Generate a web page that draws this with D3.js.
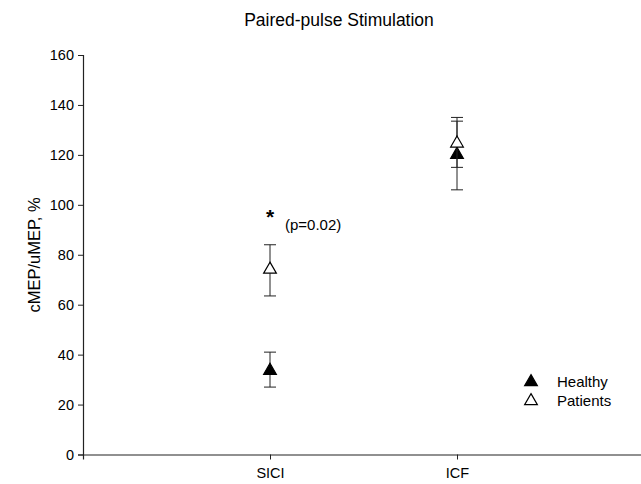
<!DOCTYPE html>
<html>
<head>
<meta charset="utf-8">
<script src="https://cdn.jsdelivr.net/npm/d3@7"></script>
<style>
  body { margin: 0; background: #fff; }
  text { font-family: "Liberation Sans", Arial, sans-serif; fill: #000; }
</style>
</head>
<body>
<svg id="chart" width="641" height="484"></svg>
<script>
// categories on the x axis
var categories = ['SICI', 'ICF']
var catPos = [1, 2]

// group means and error bar ends
var healthyMean = [34, 120.5]
var healthyLo = [27, 106]
var healthyHi = [41, 133.5]

var patientsMean = [74.5, 125]
var patientsLo = [63.5, 115]
var patientsHi = [84, 135]

var yTicks = [0, 20, 40, 60, 80, 100, 120, 140, 160]

var svg = d3.select('#chart')

var xScale = d3.scaleLinear().domain([0, 3]).range([83, 644])
var yScale = d3.scaleLinear().domain([0, 160]).range([454.5, 55])

// title
svg.append('text')
    .attr('x', 339)
    .attr('y', 26)
    .attr('text-anchor', 'middle')
    .style('font-size', '17.5px')
    .text('Paired-pulse Stimulation')

// y axis
var yAxis = d3.axisLeft(yScale).tickValues(yTicks).tickSize(5).tickPadding(4)
var yG = svg.append('g')
    .attr('transform', 'translate(' + xScale(0) + ',0)')
    .call(yAxis)
yG.select('.domain').attr('stroke', '#222').attr('stroke-width', 1.2)
yG.selectAll('line').attr('stroke', '#222')
yG.selectAll('text')
    .style('font-size', '14.5px')
    .style('font-family', '"Liberation Sans", Arial, sans-serif')

// x axis
var xAxis = d3.axisBottom(xScale).tickValues(catPos).tickSize(5).tickPadding(8)
    .tickFormat(function (d, i) { return categories[i] })
var xG = svg.append('g')
    .attr('transform', 'translate(0,' + yScale(0) + ')')
    .call(xAxis)
xG.select('.domain').attr('stroke', '#222').attr('stroke-width', 1.2)
xG.selectAll('line').attr('stroke', '#222')
xG.selectAll('text')
    .style('font-size', '14.5px')
    .style('font-family', '"Liberation Sans", Arial, sans-serif')

// y axis label
svg.append('text')
    .attr('transform', 'translate(40,255) rotate(-90)')
    .attr('text-anchor', 'middle')
    .style('font-size', '16.5px')
    .text('cMEP/uMEP, %')

var tri = d3.symbol().type(d3.symbolTriangle).size(70)
var capW = 6

function drawSeries(means, lo, hi, fill) {
    var g = svg.append('g')
    var rows = means.map(function (m, i) {
        return { x: catPos[i], m: m, lo: lo[i], hi: hi[i] }
    })
    var bars = g.selectAll('g.bar').data(rows).enter().append('g')
    bars.append('line')
        .attr('x1', function (d) { return xScale(d.x) })
        .attr('x2', function (d) { return xScale(d.x) })
        .attr('y1', function (d) { return yScale(d.lo) })
        .attr('y2', function (d) { return yScale(d.hi) })
        .attr('stroke', '#222')
    bars.selectAll('line.cap')
        .data(function (d) { return [{ x: d.x, v: d.lo }, { x: d.x, v: d.hi }] })
        .enter().append('line')
        .attr('class', 'cap')
        .attr('x1', function (d) { return xScale(d.x) - capW })
        .attr('x2', function (d) { return xScale(d.x) + capW })
        .attr('y1', function (d) { return yScale(d.v) })
        .attr('y2', function (d) { return yScale(d.v) })
        .attr('stroke', '#222')
    bars.append('path')
        .attr('d', tri)
        .attr('transform', function (d) {
            return 'translate(' + xScale(d.x) + ',' + (yScale(d.m) + 1) + ')'
        })
        .attr('fill', fill)
        .attr('stroke', '#000')
        .attr('stroke-width', 1.2)
}

drawSeries(healthyMean, healthyLo, healthyHi, '#000')
drawSeries(patientsMean, patientsLo, patientsHi, '#fff')

// significance note
svg.append('text')
    .attr('x', xScale(1))
    .attr('y', 224)
    .attr('text-anchor', 'middle')
    .style('font-size', '21px')
    .style('font-weight', 'bold')
    .text('*')
svg.append('text')
    .attr('x', 285)
    .attr('y', 230)
    .style('font-size', '15px')
    .text('(p=0.02)')

// legend
var legend = [{ name: 'Healthy', fill: '#000' }, { name: 'Patients', fill: '#fff' }]
var lg = svg.selectAll('g.legend').data(legend).enter().append('g')
    .attr('transform', function (d, i) { return 'translate(531,' + (382 + i * 19) + ')' })
lg.append('path')
    .attr('d', tri)
    .attr('fill', function (d) { return d.fill })
    .attr('stroke', '#000')
    .attr('stroke-width', 1.2)
lg.append('text')
    .attr('x', 26)
    .attr('y', 5)
    .style('font-size', '15px')
    .text(function (d) { return d.name })
</script>
</body>
</html>
